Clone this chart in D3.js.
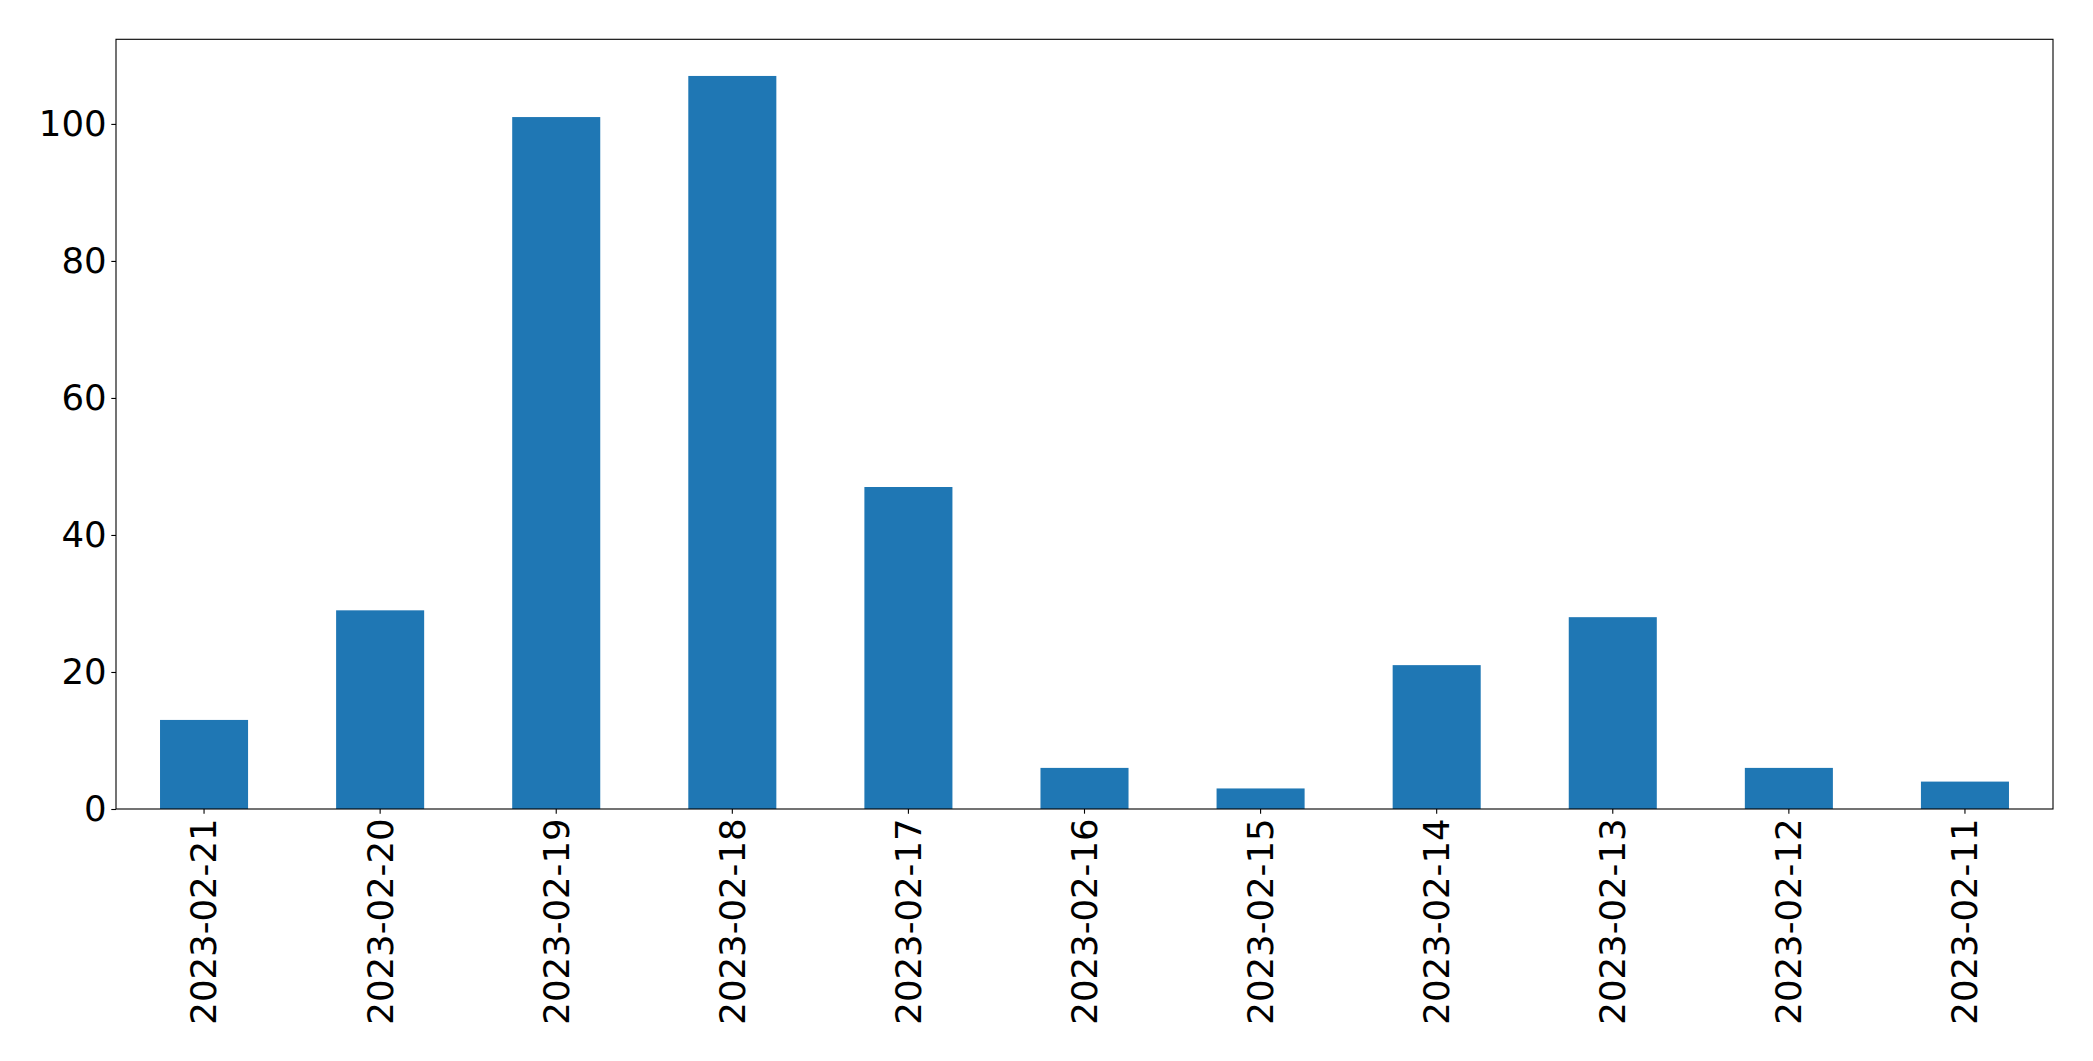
<!DOCTYPE html>
<html>
<head>
<meta charset="utf-8">
<script src="https://cdn.jsdelivr.net/npm/d3@7"></script>
<style>
  html, body { margin: 0; padding: 0; background: #ffffff; }
  svg { display: block; }
  text { font-family: "DejaVu Sans", sans-serif; fill: #000; }
</style>
</head>
<body>
<div id="chart"></div>
<script>
const categories = ["2023-02-21", "2023-02-20", "2023-02-19", "2023-02-18", "2023-02-17",
                    "2023-02-16", "2023-02-15", "2023-02-14", "2023-02-13", "2023-02-12", "2023-02-11"];
const values = [13, 29, 101, 107, 47, 6, 3, 21, 28, 6, 4];
const yTicks = [0, 20, 40, 60, 80, 100];

const W = 2093, H = 1061;
const margin = { left: 116, right: W - 2053, top: 39.3, bottom: H - 809 };
const iw = W - margin.left - margin.right;
const ih = H - margin.top - margin.bottom;

const svg = d3.select("#chart").append("svg")
  .attr("width", W).attr("height", H);

const g = svg.append("g").attr("transform", `translate(${margin.left},${margin.top})`);

const x = d3.scaleBand().domain(categories).range([0, iw])
  .paddingInner(0.5).paddingOuter(0.25);
const yMax = d3.max(values) * 1.05;
const y = d3.scaleLinear().domain([0, yMax]).range([ih, 0]);

g.selectAll("rect.bar").data(values).enter().append("rect")
  .attr("class", "bar")
  .attr("x", (d, i) => x(categories[i]))
  .attr("y", d => y(d))
  .attr("width", x.bandwidth())
  .attr("height", d => y(0) - y(d))
  .attr("fill", "#1f77b4");

const fontSize = 35.5;
const tickLen = 4.7, tickPad = 4.7;

// Y axis
const yAxis = d3.axisLeft(y).tickValues(yTicks).tickSize(tickLen).tickPadding(tickPad).tickFormat(d3.format("d"));
const yg = g.append("g").call(yAxis);
yg.select(".domain").remove();
yg.selectAll(".tick line").attr("stroke", "#000").attr("stroke-width", 1.1);
yg.selectAll(".tick text").style("font-size", fontSize + "px").attr("fill", "#000");

// X axis
const xAxis = d3.axisBottom(x).tickSize(tickLen).tickPadding(tickPad);
const xg = g.append("g").attr("transform", `translate(0,${ih})`).call(xAxis);
xg.select(".domain").remove();
xg.selectAll(".tick line").attr("stroke", "#000").attr("stroke-width", 1.1);
xg.selectAll(".tick text")
  .style("font-size", fontSize + "px")
  .attr("fill", "#000")
  .attr("transform", "rotate(-90)")
  .attr("x", -(tickLen + tickPad))
  .attr("y", 0)
  .attr("dy", "0.35em")
  .style("text-anchor", "end");

// Frame
g.append("rect")
  .attr("x", 0).attr("y", 0).attr("width", iw).attr("height", ih)
  .attr("fill", "none").attr("stroke", "#000").attr("stroke-width", 1.1);
</script>
</body>
</html>
